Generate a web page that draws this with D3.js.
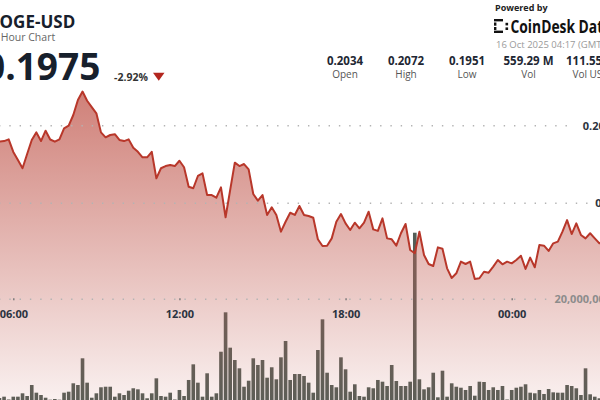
<!DOCTYPE html>
<html><head><meta charset="utf-8">
<script src="https://cdn.jsdelivr.net/npm/d3@7"></script>
<style>html,body{margin:0;padding:0;background:#fff;overflow:hidden}svg{display:block;font-family:'Open Sans',sans-serif}</style>
</head><body><svg id="c" width="600" height="400"></svg>
<script>
const symbol = "DOGE-USD";
const subtitle = "24 Hour Chart";
const lastPrice = "0.1975";
const changePct = "-2.92%";
const statValues = ["0.2034", "0.2072", "0.1951", "559.29 M", "111.55 M"];
const statLabels = ["Open", "High", "Low", "Vol", "Vol USD"];
const poweredBy = "Powered by";
const brand = "CoinDesk Data";
const timestamp = "16 Oct 2025 04:17 (GMT)";
const startTime = Date.UTC(2025, 9, 15, 5, 30);
const stepMinutes = 10;
const prices = [
0.20397,0.20401,0.20412,0.20331,0.20279,0.20226,0.20318,0.20408,0.20457,0.20401,
0.20468,0.20411,0.20397,0.20412,0.20483,0.20500,0.20569,0.20666,0.20720,0.20661,
0.20620,0.20580,0.20457,0.20425,0.20440,0.20445,0.20408,0.20401,0.20412,0.20358,
0.20332,0.20296,0.20296,0.20332,0.20161,0.20226,0.20240,0.20247,0.20240,0.20274,
0.20232,0.20107,0.20097,0.20176,0.20193,0.20053,0.20053,0.20036,0.20103,0.19910,
0.20086,0.20262,0.20240,0.20253,0.20219,0.20060,0.20017,0.20053,0.19925,0.19974,
0.19925,0.19817,0.19881,0.19939,0.19925,0.19983,0.19925,0.19918,0.19907,0.19768,
0.19725,0.19727,0.19774,0.19881,0.19931,0.19871,0.19828,0.19875,0.19839,0.19875,
0.19946,0.19832,0.19822,0.19903,0.19774,0.19768,0.19727,0.19807,0.19867,0.19699,
0.19678,0.19817,0.19667,0.19609,0.19596,0.19716,0.19707,0.19581,0.19519,0.19549,
0.19624,0.19609,0.19624,0.19512,0.19517,0.19559,0.19553,0.19592,0.19635,0.19607,
0.19624,0.19613,0.19635,0.19662,0.19577,0.19650,0.19588,0.19731,0.19727,0.19693,
0.19742,0.19753,0.19817,0.19892,0.19802,0.19871,0.19796,0.19774,0.19807,0.19774,
0.19742,0.19750];
const volumesM = [
0.96,1.22,0.68,1.22,1.22,1.87,1.35,3.47,1.99,1.54,
1.02,0.64,0.77,0.64,1.99,2.18,3.80,3.47,8.62,3.92,
1.02,1.87,3.03,3.14,3.14,1.22,1.87,1.54,2.37,2.84,
2.64,1.87,0.91,1.87,4.76,1.35,1.22,1.99,0.68,2.51,
1.35,4.44,7.46,3.92,1.22,5.73,1.22,1.87,9.89,17.49,
10.67,8.29,6.69,3.14,4.30,8.62,7.33,8.29,4.88,6.89,
4.57,8.81,11.96,4.44,5.59,5.59,5.21,3.92,1.99,10.22,
16.14,5.84,3.47,3.03,8.81,6.50,2.18,3.61,1.35,1.22,
3.03,2.84,4.44,4.11,3.28,7.33,4.24,3.28,3.28,4.11,
32.84,4.57,2.64,3.03,5.84,1.10,6.23,1.22,3.80,3.14,
2.95,2.51,3.28,1.41,4.11,4.05,2.51,3.03,2.51,3.28,
0.68,2.51,2.95,3.14,3.61,1.99,1.87,2.51,1.74,2.70,
2.06,1.99,1.99,3.47,3.28,2.84,1.54,6.69,1.68,1.22,
0.91];
const priceTicks = [0.200, 0.205];
const volumeTicks = [20000000];
const timeTicks = [Date.UTC(2025,9,15,6), Date.UTC(2025,9,15,12), Date.UTC(2025,9,15,18), Date.UTC(2025,9,16,0)];

const svg = d3.select("#c");
const stepMs = stepMinutes * 60000;
const priceData = prices.map((p, i) => ({t: new Date(startTime + i * stepMs), v: p}));
const volData = volumesM.map((v, i) => ({t: new Date(startTime + i * stepMs), v: v * 1e6}));

const x = d3.scaleUtc().domain([new Date(timeTicks[0]), new Date(timeTicks[3])]).range([13.3, 511.7]);
const y = d3.scaleLinear().domain([0.200, 0.205]).range([203.3, 125.7]);
const yv = d3.scaleLinear().domain([0, 20000000]).range([403, 299.3]);

const defs = svg.append("defs");
const grad = defs.append("linearGradient").attr("id", "ag").attr("gradientUnits", "userSpaceOnUse")
  .attr("x1", 0).attr("x2", 0).attr("y1", 88).attr("y2", 410);
grad.append("stop").attr("offset", 0).attr("stop-color", "rgb(195,95,85)").attr("stop-opacity", 0.8);
grad.append("stop").attr("offset", 1).attr("stop-color", "rgb(195,95,85)").attr("stop-opacity", 0.07);

// volume bars
const step = x(new Date(startTime + stepMs)) - x(new Date(startTime));
const bw = step - 1.0;
svg.append("g").selectAll("rect").data(volData).join("rect")
  .attr("x", d => x(d.t) - bw / 2).attr("width", bw)
  .attr("y", d => yv(d.v)).attr("height", d => yv(0) - yv(d.v))
  .attr("fill", "#535e57");

// area + line
const area = d3.area().x(d => x(d.t)).y0(410).y1(d => y(d.v));
const line = d3.line().x(d => x(d.t)).y(d => y(d.v));
svg.append("path").datum(priceData).attr("d", area).attr("fill", "url(#ag)");
svg.append("path").datum(priceData).attr("d", line).attr("fill", "none")
  .attr("stroke", "#b8372a").attr("stroke-width", 2).attr("stroke-linejoin", "round");

// gridlines + y labels
const labelRight = 611;
function gridWithLabel(yy, text, color) {
  const t = svg.append("text").attr("x", labelRight).attr("y", yy).attr("dy", "0.35em")
    .attr("text-anchor", "end").attr("font-size", 11).attr("font-weight", 700).attr("fill", color).text(text);
  const w = t.node().getComputedTextLength();
  svg.insert("line", "text").attr("x1", -1).attr("x2", labelRight - w - 7).attr("y1", yy).attr("y2", yy)
    .attr("stroke", "#b3b3b3").attr("stroke-width", 1.4).attr("stroke-dasharray", "1.4,8.9");
}
priceTicks.forEach(p => gridWithLabel(y(p), d3.format(".3~f")(p), "#2b3340"));
volumeTicks.forEach(v => gridWithLabel(yv(v), d3.format(",")(v), "#8c8c8c"));

// x axis
const xAxis = d3.axisBottom(x).tickValues(timeTicks.map(t => new Date(t)))
  .tickFormat(d3.utcFormat("%H:%M")).tickSize(2);
const gx = svg.append("g").attr("transform", `translate(0,${yv(20000000) - 1})`).call(xAxis);
gx.select(".domain").remove();
gx.selectAll(".tick line").attr("stroke", "#777").attr("stroke-width", 1.4);
gx.selectAll(".tick text").attr("y", 15.5).attr("dy", "0.35em").attr("font-size", 11)
  .attr("font-weight", 700).attr("fill", "#2b3340").attr("font-family", "'Open Sans',sans-serif");

// header
svg.append("text").attr("x", -13).attr("y", 28.3).attr("font-size", 17).attr("font-weight", 700)
  .attr("fill", "#17202c").text(symbol);
svg.append("text").attr("x", -14).attr("y", 40.5).attr("font-size", 10.5)
  .attr("fill", "#666").text(subtitle);
svg.append("text").attr("x", -16).attr("y", 80).attr("font-size", 37).attr("font-weight", 700)
  .attr("fill", "#17202c").text(lastPrice);
svg.append("text").attr("x", 114).attr("y", 80.5).attr("font-size", 10.5).attr("font-weight", 700)
  .attr("fill", "#333").text(changePct);
svg.append("path").attr("d", "M153,72.7L164.5,72.7L158.75,80.8Z").attr("fill", "#b3261e");

const statX = [345, 406, 467, 528.5, 591];
statValues.forEach((s, i) => {
  svg.append("text").attr("x", statX[i]).attr("y", 65).attr("text-anchor", "middle")
    .attr("font-size", 11.5).attr("font-weight", 700).attr("fill", "#1e2733").text(s);
  svg.append("text").attr("x", statX[i]).attr("y", 77.5).attr("text-anchor", "middle")
    .attr("font-size", 10).attr("fill", "#555").text(statLabels[i]);
});

svg.append("text").attr("x", 495).attr("y", 10.5).attr("font-size", 9).attr("font-weight", 700)
  .attr("fill", "#222").text(poweredBy);
// logo mark
const lg = svg.append("g").attr("fill", "#111");
[[494,19,9,2.4],[494,30.6,9,2.4],[494,22.5,2.4,3.2],[494,27,2.4,3],[505.5,22.8,2.6,2.6],[505.5,27.4,2.6,2.6]]
  .forEach(r => lg.append("rect").attr("x", r[0]).attr("y", r[1]).attr("width", r[2]).attr("height", r[3]));
svg.append("text").attr("x", 510.5).attr("y", 32.7).attr("font-size", 17).attr("font-weight", 700)
  .attr("fill", "#111").attr("textLength", 101).attr("lengthAdjust", "spacingAndGlyphs").text(brand);
svg.append("text").attr("x", 496).attr("y", 47.5).attr("font-size", 9.5)
  .attr("fill", "#9a9a9a").text(timestamp);
</script></body></html>
